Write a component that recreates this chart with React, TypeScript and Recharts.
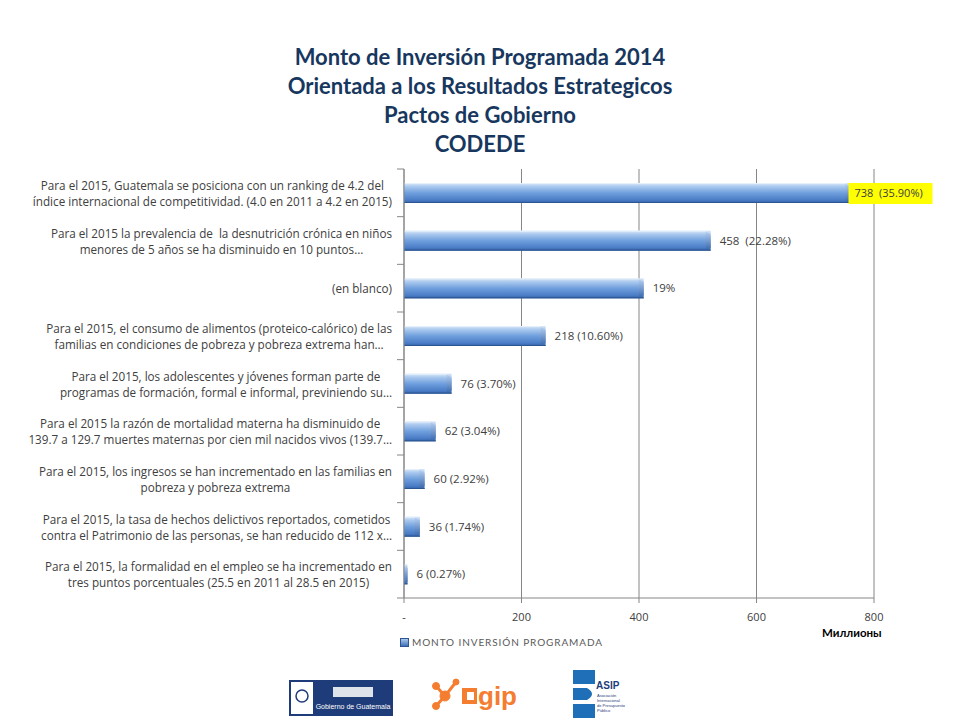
import { Bar, BarChart, CartesianGrid, LabelList, XAxis, YAxis } from "recharts";

const categories = [
  "Para el 2015, Guatemala se posiciona con un ranking de 4.2 del\níndice internacional de competitividad. (4.0 en 2011 a 4.2 en 2015)",
  "Para el 2015 la prevalencia de  la desnutrición crónica en niños\nmenores de 5 años se ha disminuido en 10 puntos…",
  "(en blanco)",
  "Para el 2015, el consumo de alimentos (proteico-calórico) de las\nfamilias en condiciones de pobreza y pobreza extrema han…",
  "Para el 2015, los adolescentes y jóvenes forman parte de\nprogramas de formación, formal e informal, previniendo su…",
  "Para el 2015 la razón de mortalidad materna ha disminuido de\n139.7 a 129.7 muertes maternas por cien mil nacidos vivos (139.7…",
  "Para el 2015, los ingresos se han incrementado en las familias en\npobreza y pobreza extrema",
  "Para el 2015, la tasa de hechos delictivos reportados, cometidos\ncontra el Patrimonio de las personas, se han reducido de 112 x…",
  "Para el 2015, la formalidad en el empleo se ha incrementado en\ntres puntos porcentuales (25.5 en 2011 al 28.5 en 2015)",
];

// bar lengths as drawn (millions)
const montos = [760, 522, 408, 241, 81, 54, 35, 27, 6];

// data labels as typed on the chart
const etiquetas = [
  "738  (35.90%)",
  "458  (22.28%)",
  "19%",
  "218 (10.60%)",
  "76 (3.70%)",
  "62 (3.04%)",
  "60 (2.92%)",
  "36 (1.74%)",
  "6 (0.27%)",
];

const xTicks = [0, 200, 400, 600, 800];

const titleLines = [
  "Monto de Inversión Programada 2014",
  "Orientada a los Resultados Estrategicos",
  "Pactos de Gobierno",
  "CODEDE",
];

const data = categories.map((c, i) => ({ categoria: c, monto: montos[i], etiqueta: etiquetas[i] }));

const textColor = "#404040";
const font = "Lato, 'Open Sans', sans-serif";
const smallFont = "'Open Sans', sans-serif";

const BevelBar = (props: any) => {
  const { x, y, width, height } = props;
  if (!width || width <= 0) return null;
  const b = Math.min(5, width / 2);
  return (
    <g>
      <rect x={x} y={y} width={width} height={height} fill="url(#barGrad)" />
      <polygon
        points={`${x + width - b},${y + 1} ${x + width},${y + 4} ${x + width},${y + height - 3} ${x + width - b},${y + height - 1}`}
        fill="url(#endGrad)"
      />
      <line x1={x} x2={x + width} y1={y + height - 0.5} y2={y + height - 0.5} stroke="#2c5592" strokeWidth={1} />
      <line x1={x} x2={x + width - b} y1={y + 0.5} y2={y + 0.5} stroke="#e6f0fb" strokeWidth={1} />
    </g>
  );
};

const CategoryTick = (props: any) => {
  const { x, y, payload, index } = props;
  const half = payload && payload.offset ? payload.offset : 429 / categories.length / 2;
  const axisX = x + 8;
  return (
    <g>
      <line x1={axisX - 7} x2={axisX} y1={y - half} y2={y - half} stroke="#868686" />
      {index === categories.length - 1 && (
        <line x1={axisX - 7} x2={axisX} y1={y + half} y2={y + half} stroke="#868686" />
      )}
      <foreignObject x={0} y={y - 24} width={x - 4} height={48}>
        <div
          style={{
            width: "100%",
            height: "100%",
            display: "flex",
            alignItems: "center",
            justifyContent: "flex-end",
          }}
        >
          <div
            style={{
              whiteSpace: "pre",
              textAlign: "center",
              fontFamily: smallFont,
              fontSize: 11.7,
              lineHeight: "16px",
              color: textColor,
            }}
          >
            {payload.value}
          </div>
        </div>
      </foreignObject>
    </g>
  );
};

const ValueLabel = (props: any) => {
  const { x, y, width, height, value, index } = props;
  const tx = x + width + 9;
  const ty = y + height / 2;
  return (
    <g>
      {index === 0 && <rect x={x + width - 2} y={ty - 10} width={84} height={21} fill="#ffff00" />}
      <text
        x={index === 0 ? tx - 5 : tx}
        y={ty}
        dy={4}
        fontFamily={smallFont}
        fontSize={index === 0 ? 11 : 11.5}
        fill={textColor}
        style={{ whiteSpace: "pre" }}
      >
        {value}
      </text>
    </g>
  );
};

export default function App() {
  return (
    <div style={{ position: "absolute", left: 0, top: 0, width: 960, height: 720, background: "#fff", fontFamily: font }}>
      <div
        style={{
          position: "absolute",
          top: 42,
          left: 0,
          width: 960,
          textAlign: "center",
          color: "#17375e",
          fontWeight: 700,
          fontSize: 22,
          lineHeight: "29px",
        }}
      >
        {titleLines.map((t) => (
          <div key={t}>{t}</div>
        ))}
      </div>

      <BarChart
        width={960}
        height={720}
        data={data}
        layout="vertical"
        barSize={20}
        margin={{ top: 169, right: 86, bottom: 92, left: 4 }}
        style={{ position: "absolute", left: 0, top: 0 }}
      >
        <defs>
          <linearGradient id="barGrad" x1="0" y1="0" x2="0" y2="1">
            <stop offset="0%" stopColor="#dbe8f8" />
            <stop offset="18%" stopColor="#a9c8ee" />
            <stop offset="50%" stopColor="#6f9fdd" />
            <stop offset="85%" stopColor="#4b7dc7" />
            <stop offset="100%" stopColor="#315fa3" />
          </linearGradient>
          <linearGradient id="endGrad" x1="0" y1="0" x2="0" y2="1">
            <stop offset="0%" stopColor="#b5cff0" />
            <stop offset="100%" stopColor="#3a69ad" />
          </linearGradient>
        </defs>
        <CartesianGrid horizontal={false} stroke="#868686" strokeWidth={1} />
        <XAxis
          type="number"
          dataKey="monto"
          domain={[0, 800]}
          ticks={xTicks}
          tickFormatter={(v: number) => (v === 0 ? "-" : String(v))}
          axisLine={{ stroke: "#868686" }}
          tickLine={{ stroke: "#868686" }}
          tickSize={5}
          height={30}
          tick={{ fill: textColor, fontSize: 11, fontFamily: smallFont, dy: 8 }}
        />
        <YAxis
          type="category"
          dataKey="categoria"
          width={400}
          interval={0}
          axisLine={{ stroke: "#868686" }}
          tickLine={false}
          tick={<CategoryTick />}
        />
        <Bar dataKey="monto" shape={<BevelBar />} isAnimationActive={false}>
          <LabelList dataKey="etiqueta" content={<ValueLabel />} />
        </Bar>
      </BarChart>

      <div
        style={{
          position: "absolute",
          left: 400,
          top: 636,
          display: "flex",
          alignItems: "center",
          fontFamily: font,
          fontSize: 10,
          letterSpacing: 0.9,
          color: "#595959",
        }}
      >
        <span
          style={{
            display: "inline-block",
            width: 7,
            height: 7,
            marginRight: 3,
            background: "linear-gradient(#a9c8ee, #3f6fb8)",
            border: "1px solid #2c5592",
          }}
        />
        MONTO INVERSIÓN PROGRAMADA
      </div>
      <div style={{ position: "absolute", left: 822, top: 626, fontSize: 11.5, fontWeight: 700, color: "#000" }}>
        Миллионы
      </div>

      <svg width={960} height={60} style={{ position: "absolute", left: 0, top: 660 }}>
        <rect x={289} y={20} width={104} height={36} fill="#1f3c7a" />
        <rect x={291} y={22} width={22} height={32} fill="#fff" />
        <circle cx={302} cy={36} r={6} fill="none" stroke="#1f3c7a" strokeWidth={1.5} />
        <rect x={333} y={27} width={40} height={10} fill="#fff" opacity={0.85} />
        <text x={353} y={49} textAnchor="middle" fontSize={7} fill="#fff" fontFamily="'Liberation Sans', sans-serif">
          Gobierno de Guatemala
        </text>
        <g fill="#f47d30" stroke="#f47d30">
          <circle cx={445} cy={36} r={5} />
          <circle cx={436} cy={26} r={3.5} />
          <circle cx={436} cy={46} r={3.5} />
          <circle cx={456} cy={22} r={3} />
          <line x1={445} y1={36} x2={436} y2={26} strokeWidth={3} />
          <line x1={445} y1={36} x2={436} y2={46} strokeWidth={3} />
          <line x1={445} y1={36} x2={456} y2={22} strokeWidth={3} />
        </g>
        <rect x={462} y={28} width={15} height={16} fill="#f47d30" />
        <rect x={467} y={32} width={7} height={8} fill="#fff" />
        <text x={478} y={45} fontSize={26} fontWeight={700} fill="#f47d30" fontFamily="'Liberation Sans', sans-serif">
          gip
        </text>
        <path d="M573 10 h22 v14 h-22 z" fill="#1f6fb8" />
        <path d="M573 28 h14 q10 6 0 12 h-14 z" fill="#1f6fb8" />
        <path d="M573 44 h22 v14 h-22 z" fill="#1f6fb8" />
        <text x={596} y={29} fontSize={10} fontWeight={700} fill="#1f3c7a" fontFamily="'Liberation Sans', sans-serif">
          ASIP
        </text>
        <text x={597} y={37} fontSize={4} fill="#1f3c7a" fontFamily="'Liberation Sans', sans-serif">Asociación</text>
        <text x={597} y={42} fontSize={4} fill="#1f3c7a" fontFamily="'Liberation Sans', sans-serif">Internacional</text>
        <text x={597} y={47} fontSize={4} fill="#1f3c7a" fontFamily="'Liberation Sans', sans-serif">de Presupuesto</text>
        <text x={597} y={52} fontSize={4} fill="#1f3c7a" fontFamily="'Liberation Sans', sans-serif">Público</text>
      </svg>
    </div>
  );
}
